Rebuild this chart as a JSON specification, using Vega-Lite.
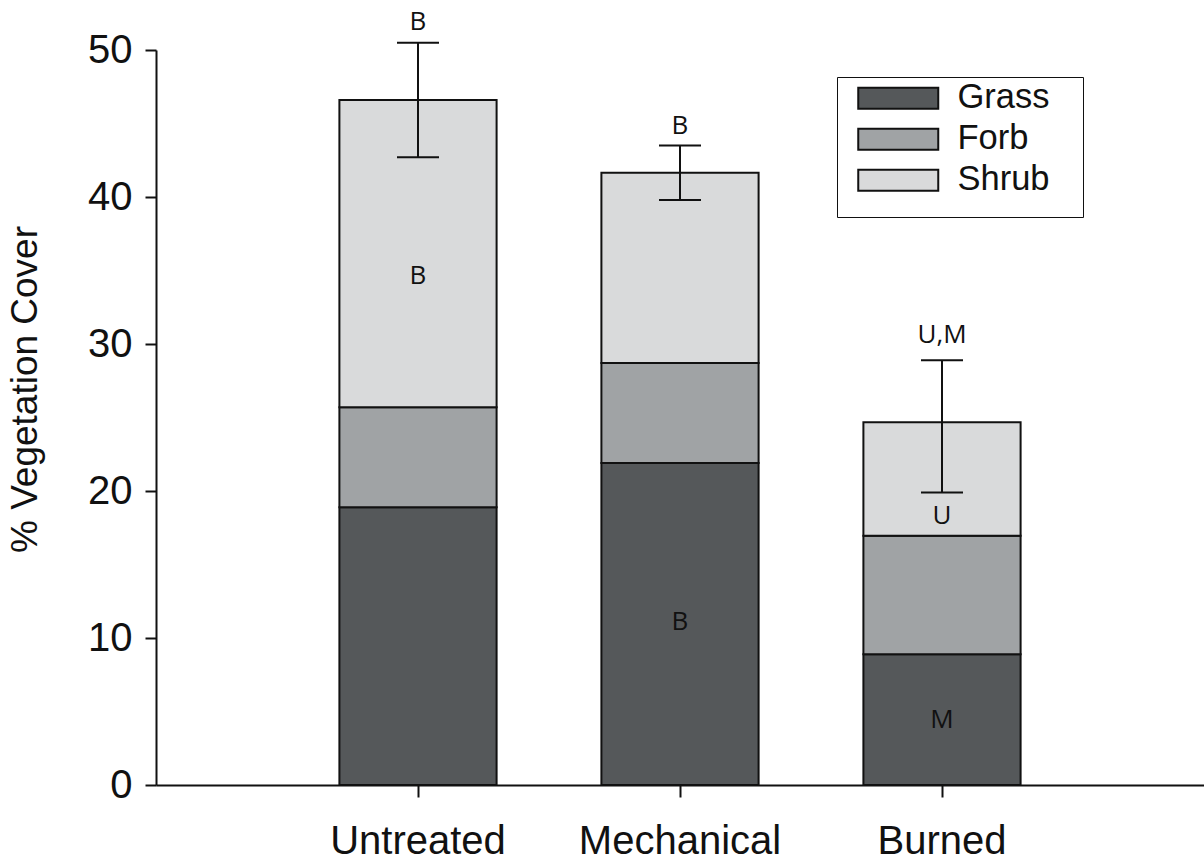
{
  "$schema": "https://vega.github.io/schema/vega-lite/v6.json",
  "width": 1048,
  "height": 735,
  "padding": {"left": 156, "top": 50, "right": 0, "bottom": 75},
  "autosize": {"type": "none"},
  "background": "white",
  "config": {
    "view": {"stroke": null},
    "axis": {
      "domainColor": "#111111",
      "tickColor": "#111111",
      "labelColor": "#111111",
      "titleColor": "#111111",
      "domainWidth": 2,
      "tickWidth": 2,
      "grid": false,
      "labelFont": "Liberation Sans",
      "titleFont": "Liberation Sans",
      "titleFontWeight": "normal",
      "labelLimit": 500
    }
  },
  "datasets": {
    "cover": [
      {"Treatment": "Untreated", "Type": "Grass", "Order": 1, "Cover": 18.9},
      {"Treatment": "Untreated", "Type": "Forb", "Order": 2, "Cover": 6.8},
      {"Treatment": "Untreated", "Type": "Shrub", "Order": 3, "Cover": 20.9},
      {"Treatment": "Mechanical", "Type": "Grass", "Order": 1, "Cover": 21.9},
      {"Treatment": "Mechanical", "Type": "Forb", "Order": 2, "Cover": 6.8},
      {"Treatment": "Mechanical", "Type": "Shrub", "Order": 3, "Cover": 12.95},
      {"Treatment": "Burned", "Type": "Grass", "Order": 1, "Cover": 8.9},
      {"Treatment": "Burned", "Type": "Forb", "Order": 2, "Cover": 8.06},
      {"Treatment": "Burned", "Type": "Shrub", "Order": 3, "Cover": 7.71}
    ],
    "err": [
      {"Treatment": "Untreated", "Low": 42.7, "High": 50.5},
      {"Treatment": "Mechanical", "Low": 39.8, "High": 43.5},
      {"Treatment": "Burned", "Low": 19.9, "High": 28.9}
    ],
    "letters": [
      {"Treatment": "Untreated", "Pos": 51.9, "Label": "B"},
      {"Treatment": "Untreated", "Pos": 34.6, "Label": "B"},
      {"Treatment": "Mechanical", "Pos": 44.8, "Label": "B"},
      {"Treatment": "Mechanical", "Pos": 11.1, "Label": "B"},
      {"Treatment": "Burned", "Pos": 30.6, "Label": "U,M"},
      {"Treatment": "Burned", "Pos": 18.3, "Label": "U"},
      {"Treatment": "Burned", "Pos": 4.4, "Label": "M"}
    ]
  },
  "encoding": {
    "x": {
      "field": "Treatment",
      "type": "nominal",
      "sort": ["Untreated", "Mechanical", "Burned"],
      "scale": {"domain": ["Untreated", "Mechanical", "Burned"], "paddingInner": 0.4, "paddingOuter": 0.7},
      "axis": {
        "title": null,
        "labelAngle": 0,
        "labelFontSize": 40,
        "tickSize": 12,
        "labelPadding": 56,
        "labelBaseline": "alphabetic"
      }
    }
  },
  "layer": [
    {
      "data": {"name": "cover"},
      "mark": {"type": "bar", "stroke": "#111111", "strokeWidth": 2, "opacity": 1},
      "encoding": {
        "y": {
          "field": "Cover",
          "type": "quantitative",
          "stack": "zero",
          "scale": {"domain": [0, 50], "nice": false},
          "axis": {
            "title": "% Vegetation Cover",
            "values": [0, 10, 20, 30, 40, 50],
            "tickSize": 11,
            "labelPadding": 13,
            "labelFontSize": 40,
            "titleFontSize": 37,
            "titleX": -120,
            "titleY": 339,
            "titleAngle": -90,
            "titleBaseline": "alphabetic",
            "titleAlign": "center"
          }
        },
        "color": {
          "field": "Type",
          "type": "nominal",
          "scale": {"domain": ["Grass", "Forb", "Shrub"], "range": ["#55585a", "#a0a3a5", "#d9dadb"]},
          "legend": {
            "title": "\u2800\u2800\u2800\u2800\u2800\u2800\u2800\u2800\u2800\u2800\u2800\u2800\u2800\u2800\u2800\u2800\u2800\u2800\u2800",
            "titleOrient": "bottom",
            "titleFontSize": 16,
            "titleFont": "DejaVu Sans",
            "titlePadding": 0,
            "titleLimit": 1000,
            "orient": "none",
            "legendX": 681,
            "legendY": 27,
            "strokeColor": "#111111",
            "fillColor": "white",
            "padding": 4,
            "symbolType": "M-4,-1.05H4V1.05H-4Z",
            "symbolSize": 400,
            "symbolOffset": 40,
            "symbolStrokeColor": "#111111",
            "symbolStrokeWidth": 2,
            "symbolOpacity": 1,
            "labelFontSize": 34.5,
            "labelFont": "Liberation Sans",
            "labelColor": "#111111",
            "labelOffset": 42,
            "rowPadding": 6
          }
        },
        "order": {"field": "Order", "type": "quantitative"}
      }
    },
    {
      "data": {"name": "err"},
      "mark": {"type": "rule", "color": "#111111", "strokeWidth": 2},
      "encoding": {
        "y": {"field": "Low", "type": "quantitative"},
        "y2": {"field": "High"}
      }
    },
    {
      "data": {"name": "err"},
      "mark": {"type": "tick", "color": "#111111", "size": 42, "thickness": 2, "opacity": 1},
      "encoding": {"y": {"field": "Low", "type": "quantitative"}}
    },
    {
      "data": {"name": "err"},
      "mark": {"type": "tick", "color": "#111111", "size": 42, "thickness": 2, "opacity": 1},
      "encoding": {"y": {"field": "High", "type": "quantitative"}}
    },
    {
      "data": {"name": "letters"},
      "mark": {"type": "text", "font": "Open Sans", "fontSize": 26, "color": "#111111", "baseline": "middle", "align": "center"},
      "encoding": {
        "y": {"field": "Pos", "type": "quantitative"},
        "text": {"field": "Label", "type": "nominal"}
      }
    }
  ]
}
